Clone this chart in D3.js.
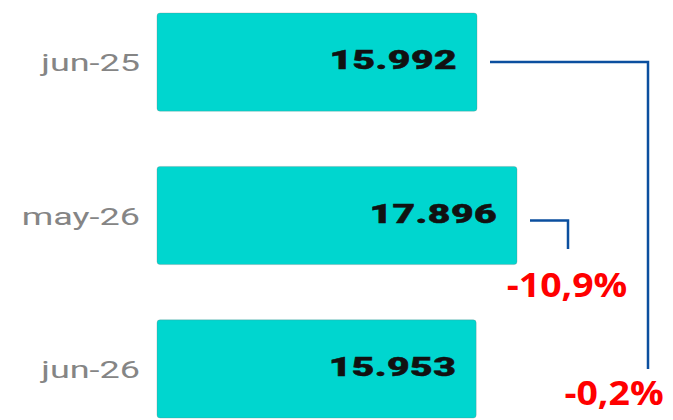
<!DOCTYPE html>
<html>
<head>
<meta charset="utf-8">
<script src="https://cdn.jsdelivr.net/npm/d3@7"></script>
<style>
  html, body { margin: 0; padding: 0; background: #fff; }
  svg { display: block; }
</style>
</head>
<body>
<svg id="chart" width="673" height="420"></svg>
<script>
// ---- data ----
const categories = ["jun-25", "may-26", "jun-26"];
const values = [15992, 17896, 15953];
// comparisons: [from category, to category]
const compareFrom = ["jun-25", "may-26"];
const compareTo = ["jun-26", "jun-26"];

// ---- layout ----
const svg = d3.select("#chart");

const y = d3.scaleBand()
  .domain(categories)
  .range([13, 418])
  .paddingInner(0.36)
  .paddingOuter(0);

const xMin = 760;
const x = d3.scaleLinear()
  .domain([xMin, d3.max(values)])
  .range([157, 517]);

const barColor = "#00d6cf";
const lineColor = "#0b4f9f";

// bars
svg.append("g").selectAll("rect")
  .data(categories)
  .join("rect")
  .attr("x", x(xMin))
  .attr("y", d => y(d))
  .attr("width", (d, i) => x(values[i]) - x(xMin))
  .attr("height", y.bandwidth())
  .attr("rx", 3)
  .attr("fill", barColor)
  .attr("stroke", "rgba(120,120,120,0.35)")
  .attr("stroke-width", 0.8);

// category labels
svg.append("g").selectAll("text")
  .data(categories)
  .join("text")
  .attr("transform", d => `translate(140,${y(d) + y.bandwidth() / 2 + 9}) scale(1.5,1)`)
  .attr("text-anchor", "end")
  .attr("font-family", "Roboto, sans-serif")
  .attr("font-size", 24)
  .attr("fill", "#858585")
  .text(d => d);

// value labels
const fmt = v => d3.format(",")(v).replace(/,/g, ".");
svg.append("g").selectAll("text")
  .data(categories)
  .join("text")
  .attr("transform", (d, i) => `translate(${x(values[i]) - 20},${y(d) + y.bandwidth() / 2 + 7}) scale(1.5,1)`)
  .attr("text-anchor", "end")
  .attr("font-family", "Roboto, sans-serif")
  .attr("font-weight", 900)
  .attr("font-size", 26)
  .attr("letter-spacing", 0.3)
  .attr("fill", "#111")
  .attr("stroke", "#111")
  .attr("stroke-width", 0.5)
  .text((d, i) => fmt(values[i]));

// comparison connectors
const pctFmt = v => (v < 0 ? "-" : "") + d3.format(".1f")(Math.abs(v) * 100).replace(".", ",") + "%";
const connectors = [
  { xEnd: 648, yEnd: y(compareTo[0]) + y.bandwidth() / 2, labelX: 614, labelY: 405, yOff: 0 },
  { xEnd: 568, yEnd: 249, labelX: 567, labelY: 297, yOff: 5 }
];
compareFrom.forEach((from, k) => {
  const i0 = categories.indexOf(from);
  const i1 = categories.indexOf(compareTo[k]);
  const c = connectors[k];
  const x0 = x(values[i0]) + 13;
  const y0 = y(from) + y.bandwidth() / 2 + c.yOff;
  svg.append("path")
    .attr("d", d3.line()([[x0, y0], [c.xEnd, y0], [c.xEnd, c.yEnd]]))
    .attr("fill", "none")
    .attr("stroke", lineColor)
    .attr("stroke-width", 2.5);
  const change = (values[i1] - values[i0]) / values[i0];
  svg.append("text")
    .attr("transform", `translate(${c.labelX},${c.labelY}) scale(1.1,1)`)
    .attr("text-anchor", "middle")
    .attr("font-family", "'Open Sans', sans-serif")
    .attr("font-weight", "bold")
    .attr("font-size", 34)
    .attr("fill", "#ff0000")
    .text(pctFmt(change));
});
</script>
</body>
</html>
